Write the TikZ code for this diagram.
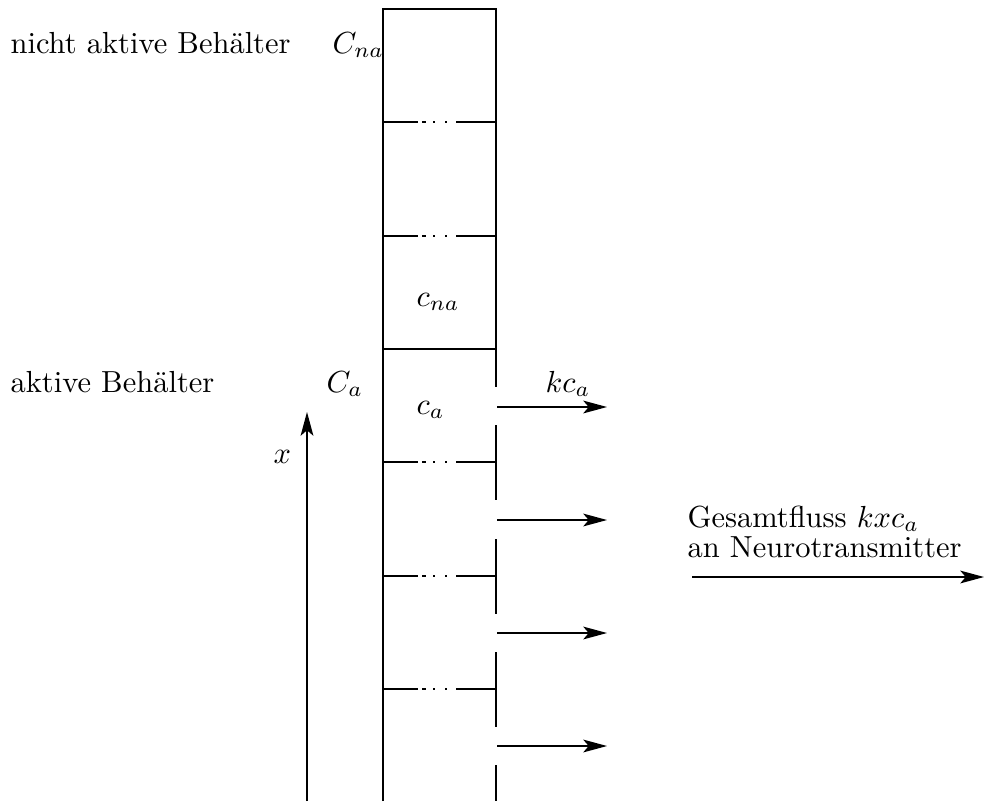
\documentclass[tikz,border=0pt]{standalone}
\usetikzlibrary{arrows.meta}
\begin{document}
\begin{tikzpicture}[x=0.328pt,y=-0.328pt,line width=0.4pt,
  arr/.style={-{Stealth[length=7.8pt,width=4.2pt,inset=1.8pt]}},
  lbl/.style={anchor=base west,inner sep=0pt}]
\useasboundingbox (0,0) rectangle (984,801);
% column
\draw (383,801) -- (383,9) -- (496,9) -- (496,387);
\foreach \a/\b in {425/500,539/614,652/727,765/801}
  \draw (496,\a) -- (496,\b);
% boundary between inactive and active part
\draw (383,349) -- (496,349);
% separators with dots
\foreach \y in {122,236,462,576,689}{
  \draw (383,\y) -- (418,\y);
  \draw (456,\y) -- (496,\y);
  \draw (422,\y) -- (426,\y);
  \draw (433,\y) -- (435,\y);
  \draw (445,\y) -- (447,\y);
}
% labels
\node[lbl] (nab) at (10,53) {nicht aktive Beh\"alter};
\node[lbl] (Cna) at (332,53) {$C_{na}$};
\node[lbl] (ab) at (10,392) {aktive Beh\"alter};
\node[lbl] (Ca) at (326,392) {$C_a$};
\node[lbl] (cna) at (416,306) {$c_{na}$};
\node[lbl] (ca) at (416,414) {$c_a$};
\node[lbl] (kca) at (545,392) {$kc_a$};
\node[lbl] (xl) at (273,463) {$x$};
\node[lbl] (g1) at (687,527) {Gesamtfluss $kxc_a$};
\node[lbl] (g2) at (687,557) {an Neurotransmitter};
% arrows
\foreach \i/\y in {1/407,2/520,3/633,4/746}{
  \coordinate (s\i) at (497,\y);
  \coordinate (e\i) at (607,\y);
  \draw[arr] (s\i) -- (e\i);
}
\coordinate (xs) at (307,801);
\coordinate (xe) at (307,412);
\draw[arr] (xs) -- (xe);
\coordinate (gs) at (692,577);
\coordinate (ge) at (984,577);
\draw[arr] (gs) -- (ge);
\end{tikzpicture}
\end{document}
